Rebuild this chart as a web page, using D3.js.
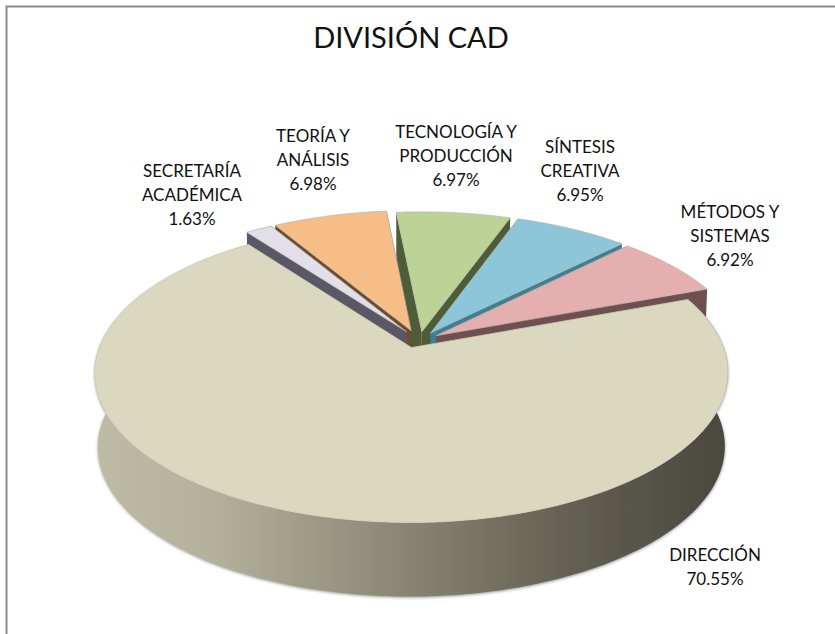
<!DOCTYPE html>
<html lang="es">
<head>
<meta charset="UTF-8">
<title>División CAD</title>
<script src="https://d3js.org/d3.v7.min.js"></script>
<style>
    body { margin: 0; background: #fff; }
    svg { display: block; }
    text { font-family: Lato, "Open Sans", sans-serif; fill: #111; }
    .label { font-size: 17px; text-anchor: middle; }
    .title { font-size: 29px; text-anchor: middle; }
</style>
</head>
<body>
<svg id="chart" width="835" height="634"></svg>
<script>
const categories = ["DIRECCIÓN", "SECRETARÍA ACADÉMICA", "TEORÍA Y ANÁLISIS", "TECNOLOGÍA Y PRODUCCIÓN", "SÍNTESIS CREATIVA", "MÉTODOS Y SISTEMAS"];
const values = [70.55, 1.63, 6.98, 6.97, 6.95, 6.92];
const labelLines = [["DIRECCIÓN"], ["SECRETARÍA", "ACADÉMICA"], ["TEORÍA Y", "ANÁLISIS"], ["TECNOLOGÍA Y", "PRODUCCIÓN"], ["SÍNTESIS", "CREATIVA"], ["MÉTODOS Y", "SISTEMAS"]];
const labelPos = [[715, 561], [192, 177], [313, 142], [456, 138], [580, 153], [730, 218]];
const topColors = ["#dbd8c0", "#e2dfe9", "#f6bd87", "#bdd297", "#8dc6d9", "#e5afaf"];
const wallColors = ["#8a8876", "#5b5866", "#6e4d2c", "#4f5c38", "#3f7f92", "#6f4f4f"];
const sliceShift = [0, 0, 0, 2.5, 3.5, 3];   // the right hand slices sit a little further out

const width = 835, height = 634;
const svg = d3.select("#chart");

// perspective of the pie plane
const cx = 417, cy = 339, Rx = 309, Ry = 142.6, k = 0.1667;
const explode = 0.062, depth = 74;

function project(u, v, low) {
    const s = 1 / (1 + k * v);
    const x = cx + Rx * u * s, y = cy - Ry * v * s;
    return low ? [cx + (x - cx) * 0.99, y + depth] : [x, y];
}

// pie starts at the right edge of the big slice, angles clockwise from north
const start = 69.5 * Math.PI / 180;
const slices = d3.pie().sort(null).value(d => d).startAngle(start).endAngle(start + 2 * Math.PI)(values)
    .map((d, i) => {
        const mid = (d.startAngle + d.endAngle) / 2;
        return { ...d, i, mid, ox: explode * Math.sin(mid), oy: explode * Math.cos(mid) };
    });

const line = d3.line();

function rim(d, low) {
    const n = Math.ceil((d.endAngle - d.startAngle) / 0.02);
    return d3.range(n + 1).map(j => {
        const a = d.startAngle + (d.endAngle - d.startAngle) * j / n;
        return project(d.ox + Math.sin(a), d.oy + Math.cos(a), low);
    });
}
const apex = (d, low) => project(d.ox, d.oy, low);

const defs = svg.append("defs");
const grad = defs.append("linearGradient").attr("id", "wallMain")
    .attr("gradientUnits", "userSpaceOnUse").attr("x1", 95).attr("x2", 727).attr("y1", 0).attr("y2", 0);
[[0, "#bdbba4"], [0.18, "#b4b29b"], [0.4, "#95937f"], [0.65, "#716e5d"], [0.8, "#5d5b4e"], [1, "#4a483f"]]
    .forEach(s => grad.append("stop").attr("offset", s[0]).attr("stop-color", s[1]));
defs.append("filter").attr("id", "soft").attr("x", "-5%").attr("y", "-5%").attr("width", "110%").attr("height", "115%")
    .append("feDropShadow").attr("dx", 0).attr("dy", 1).attr("stdDeviation", 1.5).attr("flood-color", "#777").attr("flood-opacity", 0.8);

// white page and grey frame running off the right and bottom
svg.append("rect").attr("x", 6.5).attr("y", 6.5).attr("width", 900).attr("height", 800)
    .attr("fill", "#fff").attr("stroke", "#8c8c8c").attr("stroke-width", 2);

svg.append("text").attr("class", "title").attr("x", 411).attr("y", 48).text("DIVISIÓN CAD");

// back to front, so neighbours hide most of each radial wall
const order = [3, 2, 4, 1, 5, 0];
const g = svg.append("g");

order.forEach(i => {
    const d = slices[i];
    const r = rim(d, false), rl = rim(d, true);
    const a = apex(d, false), al = apex(d, true);
    const wall = i === 0 ? "url(#wallMain)" : wallColors[i];
    const sg = g.append("g").attr("transform", `translate(${sliceShift[i]},${sliceShift[i] ? 1.5 : 0})`);

    if (i === 0) {
        // outer wall of the big slice, with a soft edge under it
        sg.append("path").attr("d", line(r.concat(rl.slice().reverse())) + "Z")
            .attr("fill", wall).attr("filter", "url(#soft)");
    } else {
        // radial walls visible behind the top face
        sg.append("path").attr("d", line([a, r[0], rl[0], al]) + "Z").attr("fill", wall);
        sg.append("path").attr("d", line([a, r[r.length - 1], rl[rl.length - 1], al]) + "Z").attr("fill", wall);
    }
    sg.append("path").attr("d", line(r.concat([a])) + "Z")
        .attr("fill", topColors[i]).attr("stroke", i === 0 ? "#cfcdb6" : "#b5b5ab").attr("stroke-width", 0.7);
});

// labels
labelLines.forEach((lines, i) => {
    const t = svg.append("text").attr("class", "label").attr("x", labelPos[i][0]).attr("y", labelPos[i][1]);
    lines.concat(values[i].toFixed(2) + "%").forEach((s, j) => {
        t.append("tspan").attr("x", labelPos[i][0]).attr("dy", j ? 24 : 0).text(s);
    });
});
</script>
</body>
</html>
